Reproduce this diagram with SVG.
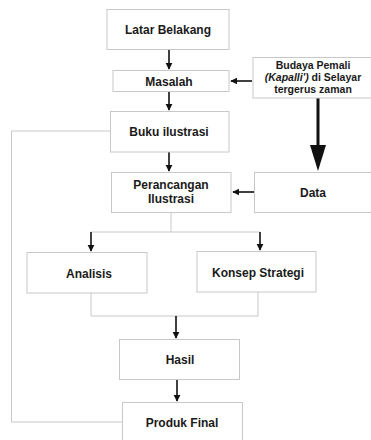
<svg xmlns="http://www.w3.org/2000/svg" width="371" height="440" viewBox="0 0 371 440">
<style>
.box{fill:#fff;stroke:#c8c8c8;stroke-width:1}
.t{font-family:"Liberation Sans",Arial,sans-serif;font-weight:bold;font-size:12px;fill:#1a1a1a;text-anchor:middle}
.s{font-size:10.5px}
.ln{fill:none;stroke:#c8c8c8;stroke-width:1}
.ar{fill:none;stroke:#111;stroke-width:1.6}
</style>
<defs>
<marker id="ah" viewBox="0 0 10 10" refX="9" refY="5" markerWidth="4.5" markerHeight="4.5" orient="auto" markerUnits="strokeWidth">
<path d="M0,0 L10,5 L0,10 Z" fill="#111"/>
</marker>
</defs>
<rect width="371" height="440" fill="#fff"/>
<g id="connectors">
<polyline class="ln" points="110,131 11.5,131 11.5,422 122,422"/>
<line class="ar" x1="169" y1="50" x2="169" y2="69" marker-end="url(#ah)"/>
<line class="ar" x1="169" y1="92" x2="169" y2="110" marker-end="url(#ah)"/>
<line class="ar" x1="252" y1="81" x2="231" y2="81" marker-end="url(#ah)"/>
<line x1="318" y1="98" x2="318" y2="146" stroke="#111" stroke-width="3"/>
<path d="M310,145 L326,145 L318,171 Z" fill="#111"/>
<line class="ar" x1="169" y1="152" x2="169" y2="171" marker-end="url(#ah)"/>
<line class="ar" x1="254" y1="192" x2="233" y2="192" marker-end="url(#ah)"/>
<polyline class="ln" points="171,212 171,232"/>
<polyline class="ln" points="91,232 260,232"/>
<line class="ar" x1="91" y1="232" x2="91" y2="251" marker-end="url(#ah)"/>
<line class="ar" x1="260" y1="232" x2="260" y2="250" marker-end="url(#ah)"/>
<polyline class="ln" points="91,293 91,316 258,316 258,292"/>
<line class="ar" x1="176" y1="316" x2="176" y2="338" marker-end="url(#ah)"/>
<line class="ar" x1="177" y1="380" x2="177" y2="401" marker-end="url(#ah)"/>
</g>
<g id="latar"><rect class="box" x="107" y="9.5" width="122" height="40"/><text class="t" x="168" y="34">Latar Belakang</text></g>
<g id="masalah"><rect class="box" x="113" y="70.5" width="116" height="21"/><text class="t" x="169" y="85.5">Masalah</text></g>
<g id="budaya"><rect class="box" x="253" y="57.5" width="120" height="40.5"/>
<text class="t s" x="313" y="69">Budaya Pemali</text>
<text class="t s" x="313" y="81"><tspan font-style="italic">(Kapalli')</tspan> di Selayar</text>
<text class="t s" x="313" y="93">tergerus zaman</text></g>
<g id="buku"><rect class="box" x="110.5" y="111.5" width="118.5" height="40.5"/><text class="t" x="169" y="136">Buku ilustrasi</text></g>
<g id="perancangan"><rect class="box" x="111.5" y="172.5" width="119.5" height="40"/><text class="t" x="171" y="189">Perancangan</text><text class="t" x="171" y="203">Ilustrasi</text></g>
<g id="data"><rect class="box" x="254.5" y="172.5" width="120" height="40"/><text class="t" x="313" y="197">Data</text></g>
<g id="analisis"><rect class="box" x="27" y="252.5" width="120" height="40.5"/><text class="t" x="89" y="278">Analisis</text></g>
<g id="konsep"><rect class="box" x="197" y="251.5" width="119" height="40.5"/><text class="t" x="258" y="277">Konsep Strategi</text></g>
<g id="hasil"><rect class="box" x="119.5" y="339.5" width="120" height="40"/><text class="t" x="180" y="364">Hasil</text></g>
<g id="produk"><rect class="box" x="122.5" y="402.5" width="120" height="45"/><text class="t" x="182" y="427">Produk Final</text></g>
</svg>
